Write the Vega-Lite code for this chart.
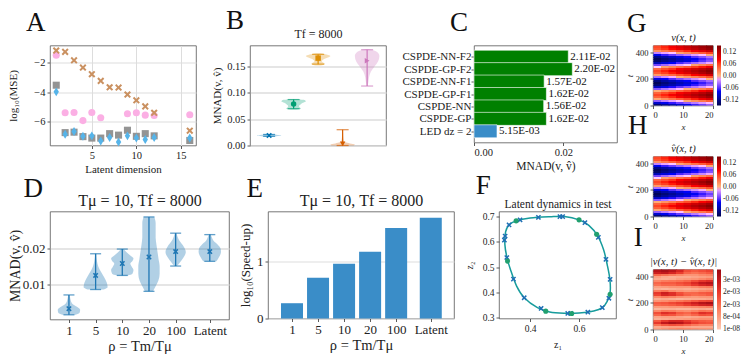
{
"$schema": "https://vega.github.io/schema/vega-lite/v6.json",
"padding": {"left": 7, "top": 5.5, "right": 0, "bottom": 0},
"background": "white",
"config": {
 "font": "Liberation Serif",
 "view": {"stroke": "#555555", "strokeWidth": 0.8},
 "axis": {"domain": false, "grid": false, "labelOverlap": false, "tickColor": "#333333", "tickSize": 3, "tickWidth": 0.8, "labelColor": "#222222", "titleColor": "#222222", "labelFont": "Liberation Serif", "titleFont": "Liberation Serif", "labelFontSize": 10.5, "titleFontSize": 11, "titleFontWeight": "normal", "gridColor": "#dddddd", "gridWidth": 1, "labelPadding": 2, "titlePadding": 4},
 "legend": {"labelFont": "Liberation Serif", "labelFontSize": 7.5, "labelColor": "#222222"},
 "title": {"font": "Liberation Serif", "fontWeight": "normal", "color": "#111111", "fontSize": 27, "anchor": "start", "frame": "group", "baseline": "alphabetic"},
 "text": {"font": "Liberation Serif", "color": "#111111"}
},
"datasets": {
 "A": [
  {"d":1,"s":"x","m":-1.19},{"d":2,"s":"x","m":-1.28},{"d":3,"s":"x","m":-1.85},{"d":4,"s":"x","m":-2.34},{"d":5,"s":"x","m":-2.79},{"d":6,"s":"x","m":-3.24},{"d":7,"s":"x","m":-3.67},{"d":8,"s":"x","m":-3.69},{"d":9,"s":"x","m":-4.16},{"d":10,"s":"x","m":-4.55},{"d":11,"s":"x","m":-4.96},{"d":12,"s":"x","m":-5.39},{"d":16,"s":"x","m":-6.6},
  {"d":1,"s":"c","m":-1.5},{"d":2,"s":"c","m":-5.39},{"d":3,"s":"c","m":-5.37},{"d":4,"s":"c","m":-5.92},{"d":5,"s":"c","m":-5.37},{"d":6,"s":"c","m":-5.73},{"d":9,"s":"c","m":-5.46},{"d":10,"s":"c","m":-5.39},{"d":11,"s":"c","m":-5.55},{"d":12,"s":"c","m":-5.57},{"d":16,"s":"c","m":-5.52},
  {"d":1,"s":"s","m":-3.53},{"d":2,"s":"s","m":-6.73},{"d":3,"s":"s","m":-6.7},{"d":4,"s":"s","m":-7.0},{"d":5,"s":"s","m":-7.1},{"d":6,"s":"s","m":-7.1},{"d":7,"s":"s","m":-6.8},{"d":8,"s":"s","m":-6.9},{"d":9,"s":"s","m":-6.57},{"d":10,"s":"s","m":-6.98},{"d":11,"s":"s","m":-6.8},{"d":12,"s":"s","m":-6.95},{"d":16,"s":"s","m":-7.26},
  {"d":1,"s":"b","m":-3.98},{"d":2,"s":"b","m":-6.84},{"d":3,"s":"b","m":-6.66},{"d":4,"s":"b","m":-6.98},{"d":5,"s":"b","m":-6.95},{"d":6,"s":"b","m":-7.3},{"d":7,"s":"b","m":-7.06},{"d":8,"s":"b","m":-7.37},{"d":9,"s":"b","m":-6.95},{"d":10,"s":"b","m":-7.1},{"d":11,"s":"b","m":-7.2},{"d":12,"s":"b","m":-7.06},{"d":16,"s":"b","m":-7.1}
 ],
 "Bv": [
  {"p":1,"y":0.016,"lo":0.95,"hi":1.05},{"p":1,"y":0.0175,"lo":0.7,"hi":1.3},{"p":1,"y":0.019,"lo":0.5,"hi":1.5},{"p":1,"y":0.0205,"lo":0.7,"hi":1.3},{"p":1,"y":0.022,"lo":0.95,"hi":1.05},
  {"p":2,"y":0.068,"lo":1.9,"hi":2.1},{"p":2,"y":0.07,"lo":1.7,"hi":2.3},{"p":2,"y":0.072,"lo":1.75,"hi":2.25},{"p":2,"y":0.075,"lo":1.78,"hi":2.22},{"p":2,"y":0.078,"lo":1.72,"hi":2.28},{"p":2,"y":0.081,"lo":1.62,"hi":2.38},{"p":2,"y":0.084,"lo":1.5,"hi":2.5},{"p":2,"y":0.0865,"lo":1.55,"hi":2.45},{"p":2,"y":0.088,"lo":1.9,"hi":2.1},
  {"p":3,"y":0.152,"lo":2.9,"hi":3.1},{"p":3,"y":0.155,"lo":2.72,"hi":3.28},{"p":3,"y":0.157,"lo":2.78,"hi":3.22},{"p":3,"y":0.16,"lo":2.85,"hi":3.15},{"p":3,"y":0.163,"lo":2.8,"hi":3.2},{"p":3,"y":0.167,"lo":2.6,"hi":3.4},{"p":3,"y":0.17,"lo":2.5,"hi":3.5},{"p":3,"y":0.173,"lo":2.65,"hi":3.35},{"p":3,"y":0.1755,"lo":2.9,"hi":3.1},
  {"p":4,"y":0.0,"lo":3.55,"hi":4.45},{"p":4,"y":0.002,"lo":3.5,"hi":4.5},{"p":4,"y":0.004,"lo":3.7,"hi":4.3},{"p":4,"y":0.006,"lo":3.88,"hi":4.12},{"p":4,"y":0.009,"lo":3.95,"hi":4.05},{"p":4,"y":0.015,"lo":3.97,"hi":4.03},{"p":4,"y":0.022,"lo":3.98,"hi":4.02},{"p":4,"y":0.03,"lo":3.99,"hi":4.01},
  {"p":5,"y":0.113,"lo":4.98,"hi":5.02},{"p":5,"y":0.12,"lo":4.95,"hi":5.05},{"p":5,"y":0.13,"lo":4.92,"hi":5.08},{"p":5,"y":0.14,"lo":4.85,"hi":5.15},{"p":5,"y":0.15,"lo":4.7,"hi":5.3},{"p":5,"y":0.16,"lo":4.55,"hi":5.45},{"p":5,"y":0.17,"lo":4.5,"hi":5.5},{"p":5,"y":0.177,"lo":4.58,"hi":5.42},{"p":5,"y":0.181,"lo":4.75,"hi":5.25},{"p":5,"y":0.1835,"lo":4.95,"hi":5.05}
 ],
 "Bs": [
  {"p":1,"lo":0.0175,"hi":0.021,"m":0.019},{"p":2,"lo":0.07,"hi":0.0873,"m":0.079},{"p":3,"lo":0.1546,"hi":0.173,"m":0.166},{"p":4,"lo":0.0,"hi":0.03,"m":0.003},{"p":5,"lo":0.113,"hi":0.182,"m":0.161}
 ],
 "C": [
  {"k":"CSPDE-NN-F2","p":6,"v":0.0211,"l":"2.11E-02","m":"CSPDE"},
  {"k":"CSPDE-GP-F2","p":5,"v":0.022,"l":"2.20E-02","m":"CSPDE"},
  {"k":"CSPDE-NN-F1","p":4,"v":0.0157,"l":"1.57E-02","m":"CSPDE"},
  {"k":"CSPDE-GP-F1","p":3,"v":0.0162,"l":"1.62E-02","m":"CSPDE"},
  {"k":"CSPDE-NN","p":2,"v":0.0156,"l":"1.56E-02","m":"CSPDE"},
  {"k":"CSPDE-GP","p":1,"v":0.0162,"l":"1.62E-02","m":"CSPDE"},
  {"k":"LED dz = 2","p":0,"v":0.00515,"l":"5.15E-03","m":"LED"}
 ],
 "Dv": [
  {"p":1,"y":0.0016,"lo":0.75,"hi":1.25},{"p":1,"y":0.0022,"lo":0.6,"hi":1.4},{"p":1,"y":0.003,"lo":0.58,"hi":1.42},{"p":1,"y":0.0038,"lo":0.7,"hi":1.3},{"p":1,"y":0.0045,"lo":0.85,"hi":1.15},{"p":1,"y":0.0055,"lo":0.93,"hi":1.07},{"p":1,"y":0.0065,"lo":0.96,"hi":1.04},{"p":1,"y":0.0071,"lo":0.98,"hi":1.02},
  {"p":2,"y":0.0086,"lo":1.7,"hi":2.3},{"p":2,"y":0.0092,"lo":1.55,"hi":2.45},{"p":2,"y":0.0105,"lo":1.58,"hi":2.42},{"p":2,"y":0.012,"lo":1.68,"hi":2.32},{"p":2,"y":0.0135,"lo":1.8,"hi":2.2},{"p":2,"y":0.015,"lo":1.9,"hi":2.1},{"p":2,"y":0.0165,"lo":1.95,"hi":2.05},{"p":2,"y":0.0185,"lo":1.98,"hi":2.02},
  {"p":3,"y":0.0125,"lo":2.8,"hi":3.2},{"p":3,"y":0.013,"lo":2.62,"hi":3.38},{"p":3,"y":0.014,"lo":2.58,"hi":3.42},{"p":3,"y":0.015,"lo":2.65,"hi":3.35},{"p":3,"y":0.0158,"lo":2.7,"hi":3.3},{"p":3,"y":0.0165,"lo":2.62,"hi":3.38},{"p":3,"y":0.0172,"lo":2.58,"hi":3.42},{"p":3,"y":0.018,"lo":2.7,"hi":3.3},{"p":3,"y":0.019,"lo":2.85,"hi":3.15},{"p":3,"y":0.0198,"lo":2.95,"hi":3.05},
  {"p":4,"y":0.0081,"lo":3.85,"hi":4.15},{"p":4,"y":0.0095,"lo":3.75,"hi":4.25},{"p":4,"y":0.011,"lo":3.65,"hi":4.35},{"p":4,"y":0.013,"lo":3.6,"hi":4.4},{"p":4,"y":0.015,"lo":3.6,"hi":4.4},{"p":4,"y":0.017,"lo":3.64,"hi":4.36},{"p":4,"y":0.019,"lo":3.68,"hi":4.32},{"p":4,"y":0.021,"lo":3.72,"hi":4.28},{"p":4,"y":0.023,"lo":3.75,"hi":4.25},{"p":4,"y":0.025,"lo":3.75,"hi":4.25},{"p":4,"y":0.027,"lo":3.75,"hi":4.25},{"p":4,"y":0.0287,"lo":3.8,"hi":4.2},
  {"p":5,"y":0.0151,"lo":4.95,"hi":5.05},{"p":5,"y":0.016,"lo":4.85,"hi":5.15},{"p":5,"y":0.0175,"lo":4.7,"hi":5.3},{"p":5,"y":0.019,"lo":4.62,"hi":5.38},{"p":5,"y":0.0205,"lo":4.7,"hi":5.3},{"p":5,"y":0.022,"lo":4.85,"hi":5.15},{"p":5,"y":0.0242,"lo":4.97,"hi":5.03},
  {"p":6.28,"y":0.0164,"lo":6.03,"hi":6.53},{"p":6.28,"y":0.017,"lo":5.98,"hi":6.58},{"p":6.28,"y":0.018,"lo":5.9,"hi":6.66},{"p":6.28,"y":0.019,"lo":5.86,"hi":6.7},{"p":6.28,"y":0.02,"lo":5.88,"hi":6.68},{"p":6.28,"y":0.021,"lo":5.98,"hi":6.58},{"p":6.28,"y":0.022,"lo":6.13,"hi":6.43},{"p":6.28,"y":0.023,"lo":6.2,"hi":6.36},{"p":6.28,"y":0.0238,"lo":6.25,"hi":6.31}
 ],
 "Ds": [
  {"p":1,"lo":0.0016,"hi":0.0071,"m":0.0033},{"p":2,"lo":0.0086,"hi":0.0185,"m":0.0125},{"p":3,"lo":0.0125,"hi":0.0198,"m":0.0158},{"p":4,"lo":0.0081,"hi":0.0287,"m":0.0176},{"p":5,"lo":0.0151,"hi":0.0242,"m":0.0191},{"p":6.28,"lo":0.0164,"hi":0.0238,"m":0.0191}
 ],
 "E": [
  {"p":1,"v":0.27},{"p":2,"v":0.72},{"p":3,"v":0.965},{"p":4,"v":1.18},{"p":5,"v":1.6},{"p":6.33,"v":1.78}
 ],
 "Fc": [
  {"i":1,"z1":0.3,"z2":0.64},{"i":2,"z1":0.314,"z2":0.667},{"i":3,"z1":0.343,"z2":0.683},{"i":4,"z1":0.4,"z2":0.694},{"i":5,"z1":0.48,"z2":0.699},{"i":6,"z1":0.54,"z2":0.7},{"i":7,"z1":0.6,"z2":0.687},{"i":8,"z1":0.64,"z2":0.665},{"i":9,"z1":0.676,"z2":0.624},{"i":10,"z1":0.7,"z2":0.57},{"i":11,"z1":0.715,"z2":0.51},{"i":12,"z1":0.726,"z2":0.452},{"i":13,"z1":0.727,"z2":0.4},{"i":14,"z1":0.715,"z2":0.365},{"i":15,"z1":0.695,"z2":0.34},{"i":16,"z1":0.66,"z2":0.327},{"i":17,"z1":0.6,"z2":0.319},{"i":18,"z1":0.54,"z2":0.318},{"i":19,"z1":0.48,"z2":0.323},{"i":20,"z1":0.43,"z2":0.34},{"i":21,"z1":0.376,"z2":0.379},{"i":22,"z1":0.345,"z2":0.425},{"i":23,"z1":0.32,"z2":0.49},{"i":24,"z1":0.305,"z2":0.54},{"i":25,"z1":0.297,"z2":0.59}
 ],
 "Fm": [
  {"k":"x","z1":0.314,"z2":0.667},{"k":"x","z1":0.359,"z2":0.687},{"k":"x","z1":0.434,"z2":0.697},{"k":"x","z1":0.522,"z2":0.7},{"k":"x","z1":0.533,"z2":0.7},{"k":"x","z1":0.624,"z2":0.676},{"k":"x","z1":0.679,"z2":0.618},{"k":"x","z1":0.71,"z2":0.531},{"k":"x","z1":0.727,"z2":0.452},{"k":"x","z1":0.722,"z2":0.377},{"k":"x","z1":0.695,"z2":0.34},{"k":"x","z1":0.636,"z2":0.322},{"k":"x","z1":0.566,"z2":0.317},{"k":"x","z1":0.554,"z2":0.317},{"k":"x","z1":0.445,"z2":0.337},{"k":"x","z1":0.376,"z2":0.379},{"k":"x","z1":0.332,"z2":0.453},{"k":"x","z1":0.305,"z2":0.538},{"k":"x","z1":0.295,"z2":0.607},{"k":"x","z1":0.298,"z2":0.623},
  {"k":"o","z1":0.343,"z2":0.683},{"k":"o","z1":0.6,"z2":0.687},{"k":"o","z1":0.672,"z2":0.63},{"k":"o","z1":0.727,"z2":0.393},{"k":"o","z1":0.57,"z2":0.317},{"k":"o","z1":0.464,"z2":0.326},{"k":"o","z1":0.308,"z2":0.524}
 ],
 "G": [
  {"x":0,"t":0,"v":-0.131},{"x":2.5,"t":0,"v":-0.118},{"x":5,"t":0,"v":-0.106},{"x":7.5,"t":0,"v":-0.093},{"x":10,"t":0,"v":-0.081},{"x":12.5,"t":0,"v":-0.068},{"x":15,"t":0,"v":-0.056},{"x":17.5,"t":0,"v":-0.043},
  {"x":0,"t":15,"v":-0.095},{"x":2.5,"t":15,"v":-0.082},{"x":5,"t":15,"v":-0.07},{"x":7.5,"t":15,"v":-0.057},{"x":10,"t":15,"v":-0.045},{"x":12.5,"t":15,"v":-0.032},{"x":15,"t":15,"v":-0.02},{"x":17.5,"t":15,"v":-0.007},
  {"x":0,"t":30,"v":-0.044},{"x":2.5,"t":30,"v":-0.031},{"x":5,"t":30,"v":-0.019},{"x":7.5,"t":30,"v":-0.006},{"x":10,"t":30,"v":0.006},{"x":12.5,"t":30,"v":0.019},{"x":15,"t":30,"v":0.031},{"x":17.5,"t":30,"v":0.044},
  {"x":0,"t":45,"v":0.007},{"x":2.5,"t":45,"v":0.02},{"x":5,"t":45,"v":0.032},{"x":7.5,"t":45,"v":0.045},{"x":10,"t":45,"v":0.057},{"x":12.5,"t":45,"v":0.07},{"x":15,"t":45,"v":0.082},{"x":17.5,"t":45,"v":0.095},
  {"x":0,"t":60,"v":0.043},{"x":2.5,"t":60,"v":0.056},{"x":5,"t":60,"v":0.068},{"x":7.5,"t":60,"v":0.081},{"x":10,"t":60,"v":0.093},{"x":12.5,"t":60,"v":0.106},{"x":15,"t":60,"v":0.118},{"x":17.5,"t":60,"v":0.131},
  {"x":0,"t":75,"v":0.056},{"x":2.5,"t":75,"v":0.069},{"x":5,"t":75,"v":0.081},{"x":7.5,"t":75,"v":0.094},{"x":10,"t":75,"v":0.106},{"x":12.5,"t":75,"v":0.119},{"x":15,"t":75,"v":0.131},{"x":17.5,"t":75,"v":0.144},
  {"x":0,"t":90,"v":0.041},{"x":2.5,"t":90,"v":0.054},{"x":5,"t":90,"v":0.066},{"x":7.5,"t":90,"v":0.079},{"x":10,"t":90,"v":0.091},{"x":12.5,"t":90,"v":0.104},{"x":15,"t":90,"v":0.116},{"x":17.5,"t":90,"v":0.129},
  {"x":0,"t":105,"v":0.003},{"x":2.5,"t":105,"v":0.016},{"x":5,"t":105,"v":0.028},{"x":7.5,"t":105,"v":0.041},{"x":10,"t":105,"v":0.053},{"x":12.5,"t":105,"v":0.066},{"x":15,"t":105,"v":0.078},{"x":17.5,"t":105,"v":0.091},
  {"x":0,"t":120,"v":-0.048},{"x":2.5,"t":120,"v":-0.035},{"x":5,"t":120,"v":-0.023},{"x":7.5,"t":120,"v":-0.01},{"x":10,"t":120,"v":0.002},{"x":12.5,"t":120,"v":0.015},{"x":15,"t":120,"v":0.027},{"x":17.5,"t":120,"v":0.04},
  {"x":0,"t":135,"v":-0.098},{"x":2.5,"t":135,"v":-0.085},{"x":5,"t":135,"v":-0.073},{"x":7.5,"t":135,"v":-0.06},{"x":10,"t":135,"v":-0.048},{"x":12.5,"t":135,"v":-0.035},{"x":15,"t":135,"v":-0.023},{"x":17.5,"t":135,"v":-0.01},
  {"x":0,"t":150,"v":-0.133},{"x":2.5,"t":150,"v":-0.12},{"x":5,"t":150,"v":-0.108},{"x":7.5,"t":150,"v":-0.095},{"x":10,"t":150,"v":-0.083},{"x":12.5,"t":150,"v":-0.07},{"x":15,"t":150,"v":-0.058},{"x":17.5,"t":150,"v":-0.045},
  {"x":0,"t":165,"v":-0.144},{"x":2.5,"t":165,"v":-0.131},{"x":5,"t":165,"v":-0.119},{"x":7.5,"t":165,"v":-0.106},{"x":10,"t":165,"v":-0.094},{"x":12.5,"t":165,"v":-0.081},{"x":15,"t":165,"v":-0.069},{"x":17.5,"t":165,"v":-0.056},
  {"x":0,"t":180,"v":-0.127},{"x":2.5,"t":180,"v":-0.114},{"x":5,"t":180,"v":-0.102},{"x":7.5,"t":180,"v":-0.089},{"x":10,"t":180,"v":-0.077},{"x":12.5,"t":180,"v":-0.064},{"x":15,"t":180,"v":-0.052},{"x":17.5,"t":180,"v":-0.039},
  {"x":0,"t":195,"v":-0.088},{"x":2.5,"t":195,"v":-0.075},{"x":5,"t":195,"v":-0.063},{"x":7.5,"t":195,"v":-0.05},{"x":10,"t":195,"v":-0.038},{"x":12.5,"t":195,"v":-0.025},{"x":15,"t":195,"v":-0.013},{"x":17.5,"t":195,"v":0.0},
  {"x":0,"t":210,"v":-0.037},{"x":2.5,"t":210,"v":-0.024},{"x":5,"t":210,"v":-0.012},{"x":7.5,"t":210,"v":0.001},{"x":10,"t":210,"v":0.013},{"x":12.5,"t":210,"v":0.026},{"x":15,"t":210,"v":0.038},{"x":17.5,"t":210,"v":0.051},
  {"x":0,"t":225,"v":0.013},{"x":2.5,"t":225,"v":0.026},{"x":5,"t":225,"v":0.038},{"x":7.5,"t":225,"v":0.051},{"x":10,"t":225,"v":0.063},{"x":12.5,"t":225,"v":0.076},{"x":15,"t":225,"v":0.088},{"x":17.5,"t":225,"v":0.101},
  {"x":0,"t":240,"v":0.046},{"x":2.5,"t":240,"v":0.059},{"x":5,"t":240,"v":0.071},{"x":7.5,"t":240,"v":0.084},{"x":10,"t":240,"v":0.096},{"x":12.5,"t":240,"v":0.109},{"x":15,"t":240,"v":0.121},{"x":17.5,"t":240,"v":0.134},
  {"x":0,"t":255,"v":0.056},{"x":2.5,"t":255,"v":0.069},{"x":5,"t":255,"v":0.081},{"x":7.5,"t":255,"v":0.094},{"x":10,"t":255,"v":0.106},{"x":12.5,"t":255,"v":0.119},{"x":15,"t":255,"v":0.131},{"x":17.5,"t":255,"v":0.144},
  {"x":0,"t":270,"v":0.038},{"x":2.5,"t":270,"v":0.051},{"x":5,"t":270,"v":0.063},{"x":7.5,"t":270,"v":0.076},{"x":10,"t":270,"v":0.088},{"x":12.5,"t":270,"v":0.101},{"x":15,"t":270,"v":0.113},{"x":17.5,"t":270,"v":0.126},
  {"x":0,"t":285,"v":-0.003},{"x":2.5,"t":285,"v":0.01},{"x":5,"t":285,"v":0.022},{"x":7.5,"t":285,"v":0.035},{"x":10,"t":285,"v":0.047},{"x":12.5,"t":285,"v":0.06},{"x":15,"t":285,"v":0.072},{"x":17.5,"t":285,"v":0.085},
  {"x":0,"t":300,"v":-0.054},{"x":2.5,"t":300,"v":-0.041},{"x":5,"t":300,"v":-0.029},{"x":7.5,"t":300,"v":-0.016},{"x":10,"t":300,"v":-0.004},{"x":12.5,"t":300,"v":0.009},{"x":15,"t":300,"v":0.021},{"x":17.5,"t":300,"v":0.034},
  {"x":0,"t":315,"v":-0.103},{"x":2.5,"t":315,"v":-0.09},{"x":5,"t":315,"v":-0.078},{"x":7.5,"t":315,"v":-0.065},{"x":10,"t":315,"v":-0.053},{"x":12.5,"t":315,"v":-0.04},{"x":15,"t":315,"v":-0.028},{"x":17.5,"t":315,"v":-0.015},
  {"x":0,"t":330,"v":-0.136},{"x":2.5,"t":330,"v":-0.123},{"x":5,"t":330,"v":-0.111},{"x":7.5,"t":330,"v":-0.098},{"x":10,"t":330,"v":-0.086},{"x":12.5,"t":330,"v":-0.073},{"x":15,"t":330,"v":-0.061},{"x":17.5,"t":330,"v":-0.048},
  {"x":0,"t":345,"v":-0.143},{"x":2.5,"t":345,"v":-0.13},{"x":5,"t":345,"v":-0.118},{"x":7.5,"t":345,"v":-0.105},{"x":10,"t":345,"v":-0.093},{"x":12.5,"t":345,"v":-0.08},{"x":15,"t":345,"v":-0.068},{"x":17.5,"t":345,"v":-0.055},
  {"x":0,"t":360,"v":-0.124},{"x":2.5,"t":360,"v":-0.111},{"x":5,"t":360,"v":-0.099},{"x":7.5,"t":360,"v":-0.086},{"x":10,"t":360,"v":-0.074},{"x":12.5,"t":360,"v":-0.061},{"x":15,"t":360,"v":-0.049},{"x":17.5,"t":360,"v":-0.036},
  {"x":0,"t":375,"v":-0.082},{"x":2.5,"t":375,"v":-0.069},{"x":5,"t":375,"v":-0.057},{"x":7.5,"t":375,"v":-0.044},{"x":10,"t":375,"v":-0.032},{"x":12.5,"t":375,"v":-0.019},{"x":15,"t":375,"v":-0.007},{"x":17.5,"t":375,"v":0.006},
  {"x":0,"t":390,"v":-0.03},{"x":2.5,"t":390,"v":-0.017},{"x":5,"t":390,"v":-0.005},{"x":7.5,"t":390,"v":0.008},{"x":10,"t":390,"v":0.02},{"x":12.5,"t":390,"v":0.033},{"x":15,"t":390,"v":0.045},{"x":17.5,"t":390,"v":0.058},
  {"x":0,"t":405,"v":0.018},{"x":2.5,"t":405,"v":0.031},{"x":5,"t":405,"v":0.043},{"x":7.5,"t":405,"v":0.056},{"x":10,"t":405,"v":0.068},{"x":12.5,"t":405,"v":0.081},{"x":15,"t":405,"v":0.093},{"x":17.5,"t":405,"v":0.106},
  {"x":0,"t":420,"v":0.049},{"x":2.5,"t":420,"v":0.062},{"x":5,"t":420,"v":0.074},{"x":7.5,"t":420,"v":0.087},{"x":10,"t":420,"v":0.099},{"x":12.5,"t":420,"v":0.112},{"x":15,"t":420,"v":0.124},{"x":17.5,"t":420,"v":0.137},
  {"x":0,"t":435,"v":0.055},{"x":2.5,"t":435,"v":0.068},{"x":5,"t":435,"v":0.08},{"x":7.5,"t":435,"v":0.093},{"x":10,"t":435,"v":0.105},{"x":12.5,"t":435,"v":0.118},{"x":15,"t":435,"v":0.13},{"x":17.5,"t":435,"v":0.143}
 ],
 "I": [
  {"x":0,"t":435,"e":0.0036},{"x":2.5,"t":435,"e":0.0038},{"x":5,"t":435,"e":0.0035},{"x":7.5,"t":435,"e":0.003},{"x":10,"t":435,"e":0.0022},{"x":12.5,"t":435,"e":0.002},{"x":15,"t":435,"e":0.0022},{"x":17.5,"t":435,"e":0.0024},
  {"x":0,"t":420,"e":0.0032},{"x":2.5,"t":420,"e":0.0034},{"x":5,"t":420,"e":0.003},{"x":7.5,"t":420,"e":0.0025},{"x":10,"t":420,"e":0.0018},{"x":12.5,"t":420,"e":0.0016},{"x":15,"t":420,"e":0.0018},{"x":17.5,"t":420,"e":0.002},
  {"x":0,"t":405,"e":0.0018},{"x":2.5,"t":405,"e":0.0016},{"x":5,"t":405,"e":0.0014},{"x":7.5,"t":405,"e":0.0012},{"x":10,"t":405,"e":0.001},{"x":12.5,"t":405,"e":0.001},{"x":15,"t":405,"e":0.0012},{"x":17.5,"t":405,"e":0.0013},
  {"x":0,"t":390,"e":0.0008},{"x":2.5,"t":390,"e":0.0006},{"x":5,"t":390,"e":0.0005},{"x":7.5,"t":390,"e":0.0006},{"x":10,"t":390,"e":0.0006},{"x":12.5,"t":390,"e":0.0007},{"x":15,"t":390,"e":0.0008},{"x":17.5,"t":390,"e":0.0009},
  {"x":0,"t":375,"e":0.0006},{"x":2.5,"t":375,"e":0.0005},{"x":5,"t":375,"e":0.0006},{"x":7.5,"t":375,"e":0.0008},{"x":10,"t":375,"e":0.0009},{"x":12.5,"t":375,"e":0.001},{"x":15,"t":375,"e":0.0012},{"x":17.5,"t":375,"e":0.0014},
  {"x":0,"t":360,"e":0.0012},{"x":2.5,"t":360,"e":0.0014},{"x":5,"t":360,"e":0.0015},{"x":7.5,"t":360,"e":0.0016},{"x":10,"t":360,"e":0.0018},{"x":12.5,"t":360,"e":0.0022},{"x":15,"t":360,"e":0.0026},{"x":17.5,"t":360,"e":0.0028},
  {"x":0,"t":345,"e":0.0018},{"x":2.5,"t":345,"e":0.002},{"x":5,"t":345,"e":0.002},{"x":7.5,"t":345,"e":0.0022},{"x":10,"t":345,"e":0.0024},{"x":12.5,"t":345,"e":0.0029},{"x":15,"t":345,"e":0.0034},{"x":17.5,"t":345,"e":0.0036},
  {"x":0,"t":330,"e":0.0016},{"x":2.5,"t":330,"e":0.0018},{"x":5,"t":330,"e":0.0018},{"x":7.5,"t":330,"e":0.002},{"x":10,"t":330,"e":0.0022},{"x":12.5,"t":330,"e":0.0026},{"x":15,"t":330,"e":0.003},{"x":17.5,"t":330,"e":0.0032},
  {"x":0,"t":315,"e":0.0008},{"x":2.5,"t":315,"e":0.0009},{"x":5,"t":315,"e":0.001},{"x":7.5,"t":315,"e":0.001},{"x":10,"t":315,"e":0.001},{"x":12.5,"t":315,"e":0.0012},{"x":15,"t":315,"e":0.0014},{"x":17.5,"t":315,"e":0.0015},
  {"x":0,"t":300,"e":0.0005},{"x":2.5,"t":300,"e":0.0004},{"x":5,"t":300,"e":0.0005},{"x":7.5,"t":300,"e":0.0006},{"x":10,"t":300,"e":0.0005},{"x":12.5,"t":300,"e":0.0006},{"x":15,"t":300,"e":0.0007},{"x":17.5,"t":300,"e":0.0008},
  {"x":0,"t":285,"e":0.0014},{"x":2.5,"t":285,"e":0.0016},{"x":5,"t":285,"e":0.0012},{"x":7.5,"t":285,"e":0.001},{"x":10,"t":285,"e":0.0009},{"x":12.5,"t":285,"e":0.001},{"x":15,"t":285,"e":0.0012},{"x":17.5,"t":285,"e":0.0013},
  {"x":0,"t":270,"e":0.0026},{"x":2.5,"t":270,"e":0.0032},{"x":5,"t":270,"e":0.0028},{"x":7.5,"t":270,"e":0.0022},{"x":10,"t":270,"e":0.0018},{"x":12.5,"t":270,"e":0.0018},{"x":15,"t":270,"e":0.002},{"x":17.5,"t":270,"e":0.0021},
  {"x":0,"t":255,"e":0.0024},{"x":2.5,"t":255,"e":0.003},{"x":5,"t":255,"e":0.0028},{"x":7.5,"t":255,"e":0.0023},{"x":10,"t":255,"e":0.0019},{"x":12.5,"t":255,"e":0.0017},{"x":15,"t":255,"e":0.0018},{"x":17.5,"t":255,"e":0.002},
  {"x":0,"t":240,"e":0.0012},{"x":2.5,"t":240,"e":0.0014},{"x":5,"t":240,"e":0.0013},{"x":7.5,"t":240,"e":0.0011},{"x":10,"t":240,"e":0.001},{"x":12.5,"t":240,"e":0.0009},{"x":15,"t":240,"e":0.001},{"x":17.5,"t":240,"e":0.001},
  {"x":0,"t":225,"e":0.0005},{"x":2.5,"t":225,"e":0.0006},{"x":5,"t":225,"e":0.0005},{"x":7.5,"t":225,"e":0.0004},{"x":10,"t":225,"e":0.0005},{"x":12.5,"t":225,"e":0.0006},{"x":15,"t":225,"e":0.0006},{"x":17.5,"t":225,"e":0.0007},
  {"x":0,"t":210,"e":0.001},{"x":2.5,"t":210,"e":0.0011},{"x":5,"t":210,"e":0.0013},{"x":7.5,"t":210,"e":0.0015},{"x":10,"t":210,"e":0.0017},{"x":12.5,"t":210,"e":0.002},{"x":15,"t":210,"e":0.0023},{"x":17.5,"t":210,"e":0.0024},
  {"x":0,"t":195,"e":0.002},{"x":2.5,"t":195,"e":0.0021},{"x":5,"t":195,"e":0.0023},{"x":7.5,"t":195,"e":0.0025},{"x":10,"t":195,"e":0.0028},{"x":12.5,"t":195,"e":0.0032},{"x":15,"t":195,"e":0.0036},{"x":17.5,"t":195,"e":0.0038},
  {"x":0,"t":180,"e":0.0018},{"x":2.5,"t":180,"e":0.0019},{"x":5,"t":180,"e":0.002},{"x":7.5,"t":180,"e":0.0022},{"x":10,"t":180,"e":0.0025},{"x":12.5,"t":180,"e":0.0028},{"x":15,"t":180,"e":0.0031},{"x":17.5,"t":180,"e":0.0032},
  {"x":0,"t":165,"e":0.0009},{"x":2.5,"t":165,"e":0.0009},{"x":5,"t":165,"e":0.001},{"x":7.5,"t":165,"e":0.001},{"x":10,"t":165,"e":0.0011},{"x":12.5,"t":165,"e":0.0012},{"x":15,"t":165,"e":0.0013},{"x":17.5,"t":165,"e":0.0014},
  {"x":0,"t":150,"e":0.0004},{"x":2.5,"t":150,"e":0.0005},{"x":5,"t":150,"e":0.0005},{"x":7.5,"t":150,"e":0.0004},{"x":10,"t":150,"e":0.0004},{"x":12.5,"t":150,"e":0.0005},{"x":15,"t":150,"e":0.0006},{"x":17.5,"t":150,"e":0.0005},
  {"x":0,"t":135,"e":0.0012},{"x":2.5,"t":135,"e":0.0015},{"x":5,"t":135,"e":0.0014},{"x":7.5,"t":135,"e":0.0012},{"x":10,"t":135,"e":0.0011},{"x":12.5,"t":135,"e":0.0013},{"x":15,"t":135,"e":0.0016},{"x":17.5,"t":135,"e":0.0015},
  {"x":0,"t":120,"e":0.0022},{"x":2.5,"t":120,"e":0.0028},{"x":5,"t":120,"e":0.0026},{"x":7.5,"t":120,"e":0.002},{"x":10,"t":120,"e":0.0018},{"x":12.5,"t":120,"e":0.0022},{"x":15,"t":120,"e":0.0028},{"x":17.5,"t":120,"e":0.0026},
  {"x":0,"t":105,"e":0.0018},{"x":2.5,"t":105,"e":0.0022},{"x":5,"t":105,"e":0.0021},{"x":7.5,"t":105,"e":0.0017},{"x":10,"t":105,"e":0.0015},{"x":12.5,"t":105,"e":0.0018},{"x":15,"t":105,"e":0.0022},{"x":17.5,"t":105,"e":0.0021},
  {"x":0,"t":90,"e":0.0007},{"x":2.5,"t":90,"e":0.0008},{"x":5,"t":90,"e":0.0008},{"x":7.5,"t":90,"e":0.0007},{"x":10,"t":90,"e":0.0006},{"x":12.5,"t":90,"e":0.0007},{"x":15,"t":90,"e":0.0008},{"x":17.5,"t":90,"e":0.0008},
  {"x":0,"t":75,"e":0.0005},{"x":2.5,"t":75,"e":0.0006},{"x":5,"t":75,"e":0.0007},{"x":7.5,"t":75,"e":0.0008},{"x":10,"t":75,"e":0.0009},{"x":12.5,"t":75,"e":0.001},{"x":15,"t":75,"e":0.0011},{"x":17.5,"t":75,"e":0.0011},
  {"x":0,"t":60,"e":0.002},{"x":2.5,"t":60,"e":0.0026},{"x":5,"t":60,"e":0.003},{"x":7.5,"t":60,"e":0.003},{"x":10,"t":60,"e":0.0026},{"x":12.5,"t":60,"e":0.0022},{"x":15,"t":60,"e":0.002},{"x":17.5,"t":60,"e":0.0019},
  {"x":0,"t":45,"e":0.0026},{"x":2.5,"t":45,"e":0.0034},{"x":5,"t":45,"e":0.0038},{"x":7.5,"t":45,"e":0.0036},{"x":10,"t":45,"e":0.003},{"x":12.5,"t":45,"e":0.0025},{"x":15,"t":45,"e":0.0022},{"x":17.5,"t":45,"e":0.0021},
  {"x":0,"t":30,"e":0.0016},{"x":2.5,"t":30,"e":0.002},{"x":5,"t":30,"e":0.0022},{"x":7.5,"t":30,"e":0.0021},{"x":10,"t":30,"e":0.0018},{"x":12.5,"t":30,"e":0.0015},{"x":15,"t":30,"e":0.0013},{"x":17.5,"t":30,"e":0.0013},
  {"x":0,"t":15,"e":0.0006},{"x":2.5,"t":15,"e":0.0007},{"x":5,"t":15,"e":0.0008},{"x":7.5,"t":15,"e":0.0008},{"x":10,"t":15,"e":0.0007},{"x":12.5,"t":15,"e":0.0006},{"x":15,"t":15,"e":0.0006},{"x":17.5,"t":15,"e":0.0006},
  {"x":0,"t":0,"e":0.0008},{"x":2.5,"t":0,"e":0.001},{"x":5,"t":0,"e":0.0012},{"x":7.5,"t":0,"e":0.0013},{"x":10,"t":0,"e":0.0012},{"x":12.5,"t":0,"e":0.0011},{"x":15,"t":0,"e":0.001},{"x":17.5,"t":0,"e":0.001}
 ]
},
"spacing": 6,
"resolve": {"scale": {"color": "independent", "shape": "independent"}},
"hconcat": [
 {"vconcat": [
  {"hconcat": [
   {"width": 146, "height": 100, "data": {"name": "A"},
    "title": {"text": "A", "dx": -24, "offset": 8.7},
    "layer": [
     {"transform": [{"filter": {"field": "s", "equal": "c"}}],
      "mark": {"type": "point", "filled": true, "shape": "circle", "size": 50, "color": "#fbafe4", "opacity": 1},
      "encoding": {
       "x": {"field": "d", "type": "quantitative", "scale": {"domain": [0.3, 16.7], "nice": false, "zero": false}, "axis": {"values": [5, 10, 15], "grid": true, "labelOverlap": false, "title": "Latent dimension", "titlePadding": 2}},
       "y": {"field": "m", "type": "quantitative", "scale": {"domain": [-7.6, -0.85], "nice": false, "zero": false}, "axis": {"values": [-6, -4, -2], "grid": true, "labelOverlap": false, "title": "log₁₀(MSE)", "titlePadding": 15}}}},
     {"transform": [{"filter": {"field": "s", "equal": "s"}}],
      "mark": {"type": "point", "filled": true, "shape": "square", "size": 50, "color": "#949494", "opacity": 1},
      "encoding": {"x": {"field": "d", "type": "quantitative"}, "y": {"field": "m", "type": "quantitative"}}},
     {"transform": [{"filter": {"field": "s", "equal": "b"}}],
      "mark": {"type": "point", "filled": true, "shape": "M0,-1L0.6,0L0,1L-0.6,0Z", "size": 80, "color": "#56b4e9", "opacity": 1},
      "encoding": {"x": {"field": "d", "type": "quantitative"}, "y": {"field": "m", "type": "quantitative"}}},
     {"transform": [{"filter": {"field": "s", "equal": "x"}}],
      "mark": {"type": "point", "filled": true, "shape": "M-1,-0.6L-0.6,-1L0,-0.4L0.6,-1L1,-0.6L0.4,0L1,0.6L0.6,1L0,0.4L-0.6,1L-1,0.6L-0.4,0Z", "size": 50, "color": "#ca9161", "opacity": 1},
      "encoding": {"x": {"field": "d", "type": "quantitative"}, "y": {"field": "m", "type": "quantitative"}}}
    ]},
   {"width": 136, "height": 100, "resolve": {"axis": {"y": "independent"}},
    "title": {"text": "B", "dx": -24, "offset": -7},
    "layer": [
     {"data": {"name": "Bv"}, "mark": {"type": "area", "orient": "horizontal", "fillOpacity": 0.3, "interpolate": "monotone"},
      "encoding": {
       "y": {"field": "y", "type": "quantitative", "scale": {"domain": [0, 0.19], "nice": false, "zero": false}, "axis": {"values": [0, 0.05, 0.1, 0.15], "format": ".2f", "grid": true, "gridWidth": 1.5, "labelOverlap": false, "title": "MNAD(v, v̂)", "titlePadding": 4}},
       "x": {"field": "lo", "type": "quantitative", "scale": {"domain": [0.22, 5.77], "nice": false, "zero": false}, "axis": {"orient": "top", "labels": false, "ticks": false, "grid": false, "title": "Tf = 8000", "titleFontSize": 12, "titlePadding": 5}},
       "x2": {"field": "hi"},
       "color": {"field": "p", "type": "nominal", "scale": {"domain": [1, 2, 3, 4, 5], "range": ["#0173b2", "#029e73", "#de8f05", "#d55e00", "#cc78bc"]}, "legend": null}}},
     {"data": {"name": "Bs"}, "mark": {"type": "rule", "strokeWidth": 1.2},
      "encoding": {"x": {"field": "p", "type": "quantitative"}, "y": {"field": "lo", "type": "quantitative", "axis": null}, "y2": {"field": "hi"}, "color": {"field": "p", "type": "nominal", "legend": null}}},
     {"data": {"name": "Bs"}, "mark": {"type": "tick", "orient": "horizontal", "size": 12, "thickness": 1.2},
      "encoding": {"x": {"field": "p", "type": "quantitative"}, "y": {"field": "lo", "type": "quantitative", "axis": null}, "color": {"field": "p", "type": "nominal", "legend": null}}},
     {"data": {"name": "Bs"}, "mark": {"type": "tick", "orient": "horizontal", "size": 12, "thickness": 1.2},
      "encoding": {"x": {"field": "p", "type": "quantitative"}, "y": {"field": "hi", "type": "quantitative", "axis": null}, "color": {"field": "p", "type": "nominal", "legend": null}}},
     {"data": {"name": "Bs"}, "mark": {"type": "point", "filled": true, "size": 30, "opacity": 1},
      "encoding": {"x": {"field": "p", "type": "quantitative"}, "y": {"field": "m", "type": "quantitative", "axis": null}, "color": {"field": "p", "type": "nominal", "legend": null},
       "shape": {"field": "p", "type": "nominal", "scale": {"domain": [1, 2, 3, 4, 5], "range": ["M-1,-0.6L-0.6,-1L0,-0.4L0.6,-1L1,-0.6L0.4,0L1,0.6L0.6,1L0,0.4L-0.6,1L-1,0.6L-0.4,0Z", "circle", "square", "triangle-down", "triangle-right"]}, "legend": null}}}
    ]},
   {"width": 143, "height": 97, "data": {"name": "C"}, "resolve": {"axis": {"y": "independent"}},
    "title": {"text": "C", "dx": -24, "offset": 8.7},
    "layer": [
     {"mark": {"type": "bar", "orient": "horizontal", "size": 13, "stroke": "#ffffff", "strokeWidth": 0.6},
      "encoding": {
       "y": {"field": "p", "type": "quantitative", "scale": {"domain": [-0.5, 6.5], "nice": false, "zero": false}, "axis": {"values": [0, 1, 2, 3, 4, 5, 6], "labelExpr": "['LED dz = 2','CSPDE-GP','CSPDE-NN','CSPDE-GP-F1','CSPDE-NN-F1','CSPDE-GP-F2','CSPDE-NN-F2'][datum.value]", "labelOverlap": false, "title": null, "labelFontSize": 11, "labelPadding": 0}},
       "x": {"field": "v", "type": "quantitative", "scale": {"domain": [0, 0.032], "nice": false}, "axis": {"values": [0, 0.02], "format": ".2f", "labelOverlap": false, "title": "MNAD(v, v̂)", "titleFontSize": 11.5, "titlePadding": 2}},
       "color": {"field": "m", "type": "nominal", "scale": {"domain": ["CSPDE", "LED"], "range": ["#008000", "#3a8dc8"]}, "legend": null}}},
     {"mark": {"type": "text", "align": "left", "baseline": "middle", "dx": 2, "fontSize": 11},
      "encoding": {"x": {"field": "v", "type": "quantitative"}, "y": {"field": "p", "type": "quantitative", "axis": null}, "text": {"field": "l"}}}
    ]}
  ], "spacing": 14, "align": "each", "resolve": {"scale": {"color": "independent", "shape": "independent"}}},
  {"hconcat": [
   {"width": 179, "height": 108, "resolve": {"axis": {"x": "independent"}},
    "title": {"text": "D", "dx": -26.6, "offset": -10},
    "layer": [
     {"data": {"name": "Dv"}, "mark": {"type": "area", "orient": "horizontal", "fillOpacity": 0.35, "interpolate": "monotone", "color": "#1f77b4"},
      "encoding": {
       "y": {"field": "y", "type": "quantitative", "scale": {"domain": [0.0003, 0.0302], "nice": false, "zero": false}, "axis": {"values": [0.01, 0.02], "format": ".2f", "grid": true, "gridWidth": 1.5, "labelOverlap": false, "title": "MNAD(v, v̂)", "titleFontSize": 14, "labelFontSize": 13, "titlePadding": 0}},
       "x": {"field": "lo", "type": "quantitative", "scale": {"domain": [0.29, 7.0], "nice": false, "zero": false}, "axis": {"values": [1, 2, 3, 4, 5, 6.28], "labelExpr": "datum.value == 1 ? '1' : datum.value == 2 ? '5' : datum.value == 3 ? '10' : datum.value == 4 ? '20' : datum.value == 5 ? '100' : 'Latent'", "labelOverlap": false, "title": "ρ = Tm/Tμ", "titleFontSize": 14.5, "labelFontSize": 13, "titlePadding": 2}},
       "x2": {"field": "hi"},
       "detail": {"field": "p", "type": "nominal"}}},
     {"data": {"name": "Ds"}, "mark": {"type": "rule", "strokeWidth": 1.3, "color": "#1f77b4"},
      "encoding": {"x": {"field": "p", "type": "quantitative", "axis": {"orient": "top", "labels": false, "ticks": false, "domain": false, "grid": false, "title": "Tμ = 10, Tf = 8000", "titleFontSize": 16, "titlePadding": 3}}, "y": {"field": "lo", "type": "quantitative"}, "y2": {"field": "hi"}}},
     {"data": {"name": "Ds"}, "mark": {"type": "tick", "orient": "horizontal", "size": 11, "thickness": 1.3, "color": "#1f77b4"},
      "encoding": {"x": {"field": "p", "type": "quantitative", "axis": null}, "y": {"field": "lo", "type": "quantitative"}}},
     {"data": {"name": "Ds"}, "mark": {"type": "tick", "orient": "horizontal", "size": 11, "thickness": 1.3, "color": "#1f77b4"},
      "encoding": {"x": {"field": "p", "type": "quantitative", "axis": null}, "y": {"field": "hi", "type": "quantitative"}}},
     {"data": {"name": "Ds"}, "mark": {"type": "point", "filled": true, "size": 30, "opacity": 1, "color": "#1f77b4", "shape": "M-1,-0.6L-0.6,-1L0,-0.4L0.6,-1L1,-0.6L0.4,0L1,0.6L0.6,1L0,0.4L-0.6,1L-1,0.6L-0.4,0Z"},
      "encoding": {"x": {"field": "p", "type": "quantitative", "axis": null}, "y": {"field": "m", "type": "quantitative"}}}
    ]},
   {"width": 186, "height": 107, "resolve": {"axis": {"x": "independent"}},
    "title": {"text": "E", "dx": -21.6, "offset": -10.6},
    "layer": [
     {"data": {"name": "E"}, "mark": {"type": "bar", "size": 22, "color": "#3a8dc8"},
      "encoding": {
       "x": {"field": "p", "type": "quantitative", "scale": {"domain": [0.27, 7.03], "nice": false, "zero": false}, "axis": {"values": [1, 2, 3, 4, 5, 6.33], "labelExpr": "datum.value == 1 ? '1' : datum.value == 2 ? '5' : datum.value == 3 ? '10' : datum.value == 4 ? '20' : datum.value == 5 ? '100' : 'Latent'", "labelOverlap": false, "title": "ρ = Tm/Tμ", "titleFontSize": 14.5, "labelFontSize": 13, "titlePadding": 2}},
       "y": {"field": "v", "type": "quantitative", "scale": {"domain": [0, 1.89], "nice": false}, "axis": {"values": [0, 1], "format": ".0f", "grid": true, "labelOverlap": false, "title": "log₁₀(Speed-up)", "titleFontSize": 13, "labelFontSize": 13, "titlePadding": 4.5}}}},
     {"data": {"values": [{}]}, "mark": {"type": "point", "opacity": 0},
      "encoding": {"x": {"datum": 3, "axis": {"orient": "top", "labels": false, "ticks": false, "domain": false, "grid": false, "title": "Tμ = 10, Tf = 8000", "titleFontSize": 16, "titlePadding": 3}}, "y": {"datum": 1}}}
    ]},
   {"width": 117, "height": 107, "resolve": {"axis": {"x": "independent", "y": "independent"}},
    "title": {"text": "F", "dx": -23.3, "offset": -1.9},
    "layer": [
     {"data": {"name": "Fc"}, "mark": {"type": "line", "interpolate": "cardinal-closed", "color": "#179c9c", "strokeWidth": 1.5},
      "encoding": {
       "x": {"field": "z1", "type": "quantitative", "scale": {"domain": [0.273, 0.751], "nice": false, "zero": false}, "axis": {"values": [0.4, 0.6], "format": ".1f", "labelOverlap": false, "title": "z₁", "labelFontSize": 9.5, "titleFontSize": 10, "titlePadding": 6}},
       "y": {"field": "z2", "type": "quantitative", "scale": {"domain": [0.297, 0.72], "nice": false, "zero": false}, "axis": {"values": [0.3, 0.4, 0.5, 0.6, 0.7], "format": ".1f", "labelOverlap": false, "title": "z₂", "labelFontSize": 9.5, "titleFontSize": 10, "titlePadding": 8}},
       "order": {"field": "i", "type": "quantitative"}}},
     {"data": {"name": "Fm"}, "transform": [{"filter": {"field": "k", "equal": "x"}}],
      "mark": {"type": "point", "filled": true, "size": 28, "opacity": 1, "color": "#1f6fb4", "shape": "M-1,-0.6L-0.6,-1L0,-0.4L0.6,-1L1,-0.6L0.4,0L1,0.6L0.6,1L0,0.4L-0.6,1L-1,0.6L-0.4,0Z"},
      "encoding": {"x": {"field": "z1", "type": "quantitative", "axis": {"orient": "top", "labels": false, "ticks": false, "domain": false, "grid": false, "title": "Latent dynamics in test", "titleFontSize": 11.5, "titlePadding": 2}}, "y": {"field": "z2", "type": "quantitative", "axis": null}}},
     {"data": {"name": "Fm"}, "transform": [{"filter": {"field": "k", "equal": "o"}}],
      "mark": {"type": "point", "filled": true, "size": 26, "opacity": 1, "color": "#21a06f", "shape": "circle"},
      "encoding": {"x": {"field": "z1", "type": "quantitative", "axis": null}, "y": {"field": "z2", "type": "quantitative", "axis": null}}}
    ]}
  ], "spacing": 8, "align": "each", "resolve": {"scale": {"color": "independent", "shape": "independent"}}}
 ], "spacing": -3, "resolve": {"scale": {"color": "independent", "shape": "independent"}}},
 {"vconcat": [
  {"width": 60, "height": 60, "resolve": {"axis": {"x": "independent"}},
   "title": {"text": "G", "dx": -26, "offset": -5.9},
   "layer": [
    {"data": {"name": "G"}, "mark": {"type": "rect", "clip": true},
     "encoding": {
      "x": {"field": "x", "type": "quantitative", "bin": {"binned": true, "step": 2.85}, "scale": {"domain": [0, 20], "nice": false, "zero": false}, "axis": {"values": [0, 10, 20], "labelOverlap": false, "title": "x", "titleFontStyle": "italic", "labelFontSize": 8.5, "titleFontSize": 9, "titlePadding": 3}},
      "y": {"field": "t", "type": "quantitative", "bin": {"binned": true, "step": 22}, "scale": {"domain": [0, 450], "nice": false, "zero": false}, "axis": {"values": [0, 200, 400], "labelOverlap": false, "title": "t", "titleFontStyle": "italic", "labelFontSize": 8.5, "titleFontSize": 9, "titlePadding": 1}},
      "order": {"field": "t", "type": "quantitative", "sort": "ascending"},
      "color": {"field": "v", "type": "quantitative", "scale": {"domain": [-0.15, -0.075, 0, 0.075, 0.15], "range": ["#00004d", "#0000ff", "#ffffff", "#ff0000", "#800000"]}, "legend": {"type": "gradient", "values": [-0.12, -0.06, 0, 0.06, 0.12], "labelExpr": "replace(format(datum.value, '.2f'), '−', '-')", "title": null, "gradientLength": 60, "gradientThickness": 4, "offset": 4, "labelFontSize": 7.5, "labelOffset": 2}}}},
    {"data": {"values": [{}]}, "mark": {"type": "point", "opacity": 0},
     "encoding": {"x": {"datum": 10, "axis": {"orient": "top", "labels": false, "ticks": false, "domain": false, "grid": false, "title": "v(x, t)", "titleFontSize": 10.5, "titleFontStyle": "italic", "titlePadding": 3}}, "y": {"datum": 200}}}
   ]},
  {"width": 60, "height": 60, "resolve": {"axis": {"x": "independent"}},
   "title": {"text": "H", "dx": -25, "offset": 3.5},
   "layer": [
    {"data": {"name": "G"}, "mark": {"type": "rect", "clip": true},
     "encoding": {
      "x": {"field": "x", "type": "quantitative", "bin": {"binned": true, "step": 2.85}, "scale": {"domain": [0, 20], "nice": false, "zero": false}, "axis": {"values": [0, 10, 20], "labelOverlap": false, "title": "x", "titleFontStyle": "italic", "labelFontSize": 8.5, "titleFontSize": 9, "titlePadding": 3}},
      "y": {"field": "t", "type": "quantitative", "bin": {"binned": true, "step": 22}, "scale": {"domain": [0, 450], "nice": false, "zero": false}, "axis": {"values": [0, 200, 400], "labelOverlap": false, "title": "t", "titleFontStyle": "italic", "labelFontSize": 8.5, "titleFontSize": 9, "titlePadding": 1}},
      "order": {"field": "t", "type": "quantitative", "sort": "ascending"},
      "color": {"field": "v", "type": "quantitative", "scale": {"domain": [-0.15, -0.075, 0, 0.075, 0.15], "range": ["#00004d", "#0000ff", "#ffffff", "#ff0000", "#800000"]}, "legend": {"type": "gradient", "values": [-0.12, -0.06, 0, 0.06, 0.12], "labelExpr": "replace(format(datum.value, '.2f'), '−', '-')", "title": null, "gradientLength": 60, "gradientThickness": 4, "offset": 4, "labelFontSize": 7.5, "labelOffset": 2}}}},
    {"data": {"values": [{}]}, "mark": {"type": "point", "opacity": 0},
     "encoding": {"x": {"datum": 10, "axis": {"orient": "top", "labels": false, "ticks": false, "domain": false, "grid": false, "title": "v̂(x, t)", "titleFontSize": 10.5, "titleFontStyle": "italic", "titlePadding": 3}}, "y": {"datum": 200}}}
   ]},
  {"width": 60, "height": 60, "resolve": {"axis": {"x": "independent"}},
   "title": {"text": "I", "dx": -19.3, "offset": 4.8},
   "layer": [
    {"data": {"name": "I"}, "mark": {"type": "rect", "clip": true},
     "encoding": {
      "x": {"field": "x", "type": "quantitative", "bin": {"binned": true, "step": 2.85}, "scale": {"domain": [0, 20], "nice": false, "zero": false}, "axis": {"values": [0, 10, 20], "labelOverlap": false, "title": "x", "titleFontStyle": "italic", "labelFontSize": 8.5, "titleFontSize": 9, "titlePadding": 3}},
      "y": {"field": "t", "type": "quantitative", "bin": {"binned": true, "step": 22}, "scale": {"domain": [0, 450], "nice": false, "zero": false}, "axis": {"values": [0, 200, 400], "labelOverlap": false, "title": "t", "titleFontStyle": "italic", "labelFontSize": 8.5, "titleFontSize": 9, "titlePadding": 1}},
      "order": {"field": "t", "type": "quantitative", "sort": "ascending"},
      "color": {"field": "e", "type": "quantitative", "scale": {"scheme": "reds", "domain": [0, 0.0041]}, "legend": {"type": "gradient", "values": [0.00000001, 0.00085, 0.0017, 0.00255, 0.0034], "labelExpr": "datum.value < 0.000001 ? '1e-08' : datum.value < 0.001 ? '8e-04' : datum.value < 0.003 ? '2e-03' : '3e-03'", "title": null, "gradientLength": 60, "gradientThickness": 4, "offset": 4, "labelFontSize": 7.5, "labelOffset": 2}}}},
    {"data": {"values": [{}]}, "mark": {"type": "point", "opacity": 0},
     "encoding": {"x": {"datum": 10, "axis": {"orient": "top", "labels": false, "ticks": false, "domain": false, "grid": false, "title": "|v(x, t) − v̂(x, t)|", "titleFontSize": 10.5, "titleFontStyle": "italic", "titlePadding": 3}}, "y": {"datum": 200}}}
   ]}
 ], "spacing": -20, "align": "each", "resolve": {"scale": {"color": "independent", "shape": "independent"}}}
]
}
